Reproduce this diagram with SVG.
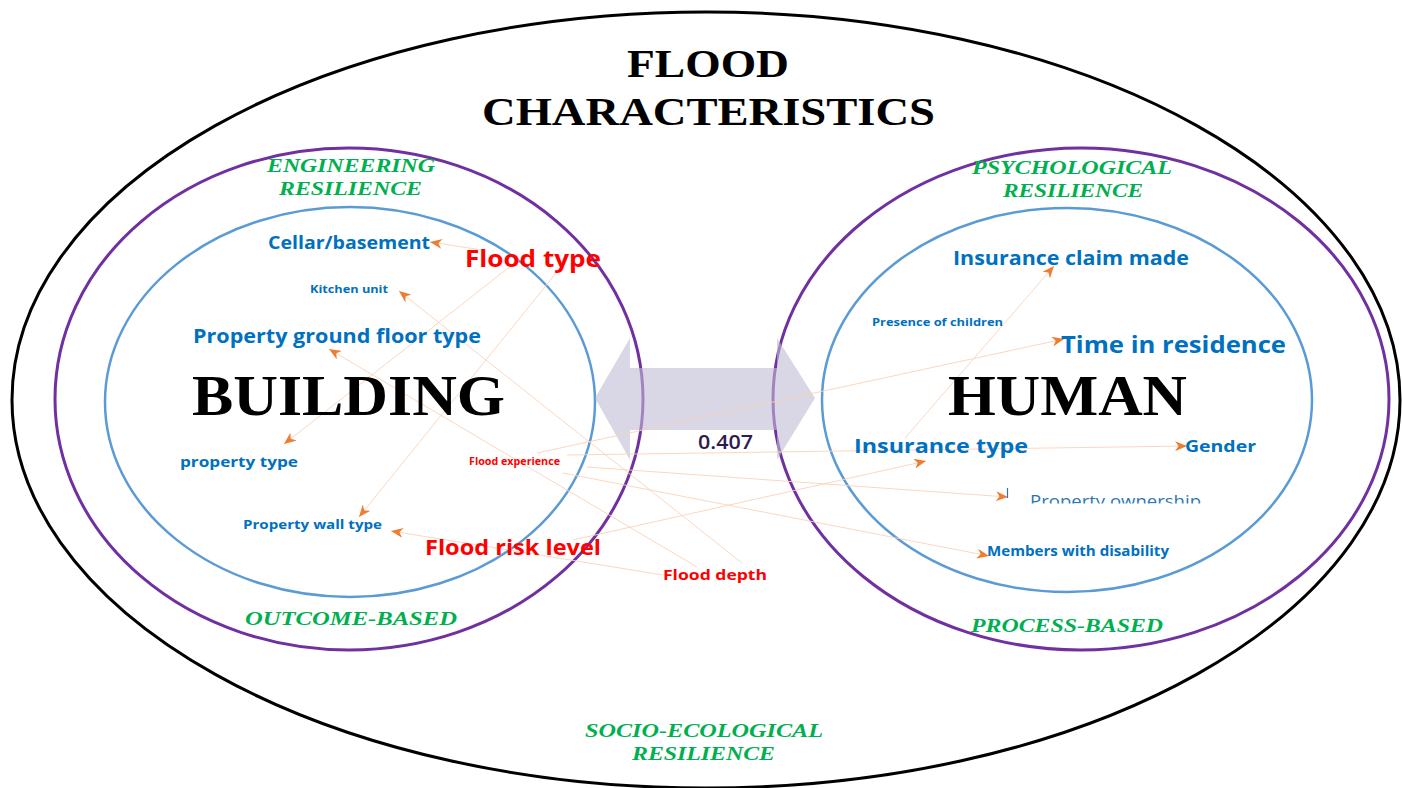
<svg xmlns="http://www.w3.org/2000/svg" width="1402" height="788" viewBox="0 0 1402 788">
  <defs>
    <style>
      .ring-outer { fill: none; stroke: #000000; stroke-width: 3; }
      .ring-purple { fill: none; stroke: #7030a0; stroke-width: 3; }
      .ring-blue { fill: none; stroke: #5b9bd5; stroke-width: 2.5; }
      .title { font-family: "Liberation Serif", "Times New Roman", serif; font-weight: 700; fill: #000000; }
      .domain { font-family: "Liberation Serif", "Times New Roman", serif; font-weight: 700; fill: #000000; font-size: 58px; }
      .green { font-family: "Liberation Serif", "Times New Roman", serif; font-weight: 700; font-style: italic; fill: #00b050; font-size: 18px; }
      .blue { font-family: "Open Sans", "Liberation Sans", sans-serif; font-weight: 700; fill: #0070c0; }
      .red { font-family: "Open Sans", "Liberation Sans", sans-serif; font-weight: 700; fill: #ff0000; }
      .link { fill: none; stroke: #f9d3b8; stroke-width: 0.9; marker-end: url(#tip); }
    </style>
    <marker id="tip" viewBox="0 0 12 10" refX="12" refY="5" markerWidth="12" markerHeight="10" markerUnits="userSpaceOnUse" orient="auto">
      <path d="M0,0 L12,5 L0,10 L3.5,5 Z" fill="#ed7d31"/>
    </marker>
    <clipPath id="ownership-clip">
      <rect x="1000" y="470" width="260" height="33.5"/>
    </clipPath>
  </defs>

  <rect width="1402" height="788" fill="#ffffff"/>

  <!-- enclosing rings -->
  <g id="rings">
    <ellipse class="ring-outer" cx="706" cy="400" rx="694" ry="388"/>
    <ellipse class="ring-purple" cx="349" cy="399" rx="294" ry="251"/>
    <ellipse class="ring-purple" cx="1081" cy="399" rx="308" ry="251"/>
    <ellipse class="ring-blue" cx="350" cy="402" rx="245" ry="195"/>
    <ellipse class="ring-blue" cx="1067" cy="400" rx="245" ry="192"/>
  </g>

  <!-- two-way link between the domains -->
  <g id="link-arrow">
    <polygon points="595,398 630,338 630,368 777,368 777,338 815,398 777,460 777,430 630,430 630,460" fill="#bfbcd3" fill-opacity="0.6"/>
    <text x="698" y="449" font-family="'Open Sans', 'Liberation Sans', sans-serif" font-weight="600" font-size="20.5" fill="#2f1b4d" textLength="55" lengthAdjust="spacingAndGlyphs">0.407</text>
  </g>

  <!-- connectors -->
  <g id="connectors">
    <path class="link" d="M482,250 L430,242"/>
    <path class="link" d="M742,563 L399,291"/>
    <path class="link" d="M697,567 L329,349"/>
    <path class="link" d="M663,575 L391,531"/>
    <path class="link" d="M512,265 L284,444"/>
    <path class="link" d="M557,272 L359,517"/>
    <path class="link" d="M537,453 L1064,339"/>
    <path class="link" d="M567,455 L1187,446"/>
    <path class="link" d="M587,467 L1008,497"/>
    <path class="link" d="M563,473 L989,556"/>
    <path class="link" d="M573,540 L926,461"/>
    <path class="link" d="M905,438 L1054,266"/>
  </g>

  <g id="title">
    <text class="title" x="627" y="77" font-size="39" textLength="162" lengthAdjust="spacingAndGlyphs">FLOOD</text>
    <text class="title" x="482" y="125" font-size="40" textLength="453" lengthAdjust="spacingAndGlyphs">CHARACTERISTICS</text>
  </g>

  <g id="building">
    <text class="domain" x="192" y="415" textLength="313" lengthAdjust="spacingAndGlyphs">BUILDING</text>
  </g>
  <g id="human">
    <text class="domain" x="948" y="415" textLength="239" lengthAdjust="spacingAndGlyphs">HUMAN</text>
  </g>

  <g id="engineering-resilience">
    <text class="green" x="267" y="172" textLength="168" lengthAdjust="spacingAndGlyphs">ENGINEERING</text>
    <text class="green" x="279" y="195" textLength="143" lengthAdjust="spacingAndGlyphs">RESILIENCE</text>
  </g>
  <g id="psychological-resilience">
    <text class="green" x="972" y="174" textLength="200" lengthAdjust="spacingAndGlyphs">PSYCHOLOGICAL</text>
    <text class="green" x="1003" y="197" textLength="140" lengthAdjust="spacingAndGlyphs">RESILIENCE</text>
  </g>
  <g id="outcome-based">
    <text class="green" x="245" y="625" textLength="212" lengthAdjust="spacingAndGlyphs">OUTCOME-BASED</text>
  </g>
  <g id="process-based">
    <text class="green" x="971" y="632" textLength="192" lengthAdjust="spacingAndGlyphs">PROCESS-BASED</text>
  </g>
  <g id="socio-ecological-resilience">
    <text class="green" x="585" y="737" textLength="238" lengthAdjust="spacingAndGlyphs">SOCIO-ECOLOGICAL</text>
    <text class="green" x="632" y="760" textLength="143" lengthAdjust="spacingAndGlyphs">RESILIENCE</text>
  </g>

  <!-- building attributes -->
  <g id="cellar-basement"><text class="blue" x="268" y="249" font-size="18" textLength="162" lengthAdjust="spacingAndGlyphs">Cellar/basement</text></g>
  <g id="kitchen-unit"><text class="blue" x="310" y="293" font-size="10.5" textLength="78" lengthAdjust="spacingAndGlyphs">Kitchen unit</text></g>
  <g id="ground-floor-type"><text class="blue" x="193" y="343" font-size="19" textLength="288" lengthAdjust="spacingAndGlyphs">Property ground floor type</text></g>
  <g id="property-type"><text class="blue" x="180" y="467" font-size="14.5" textLength="118" lengthAdjust="spacingAndGlyphs">property type</text></g>
  <g id="wall-type"><text class="blue" x="243" y="529" font-size="13" textLength="139" lengthAdjust="spacingAndGlyphs">Property wall type</text></g>

  <!-- human attributes -->
  <g id="insurance-claim"><text class="blue" x="953" y="265" font-size="19" textLength="236" lengthAdjust="spacingAndGlyphs">Insurance claim made</text></g>
  <g id="children"><text class="blue" x="872" y="326" font-size="10.5" textLength="131" lengthAdjust="spacingAndGlyphs">Presence of children</text></g>
  <g id="time-in-residence"><text class="blue" x="1061" y="353" font-size="23" textLength="225" lengthAdjust="spacingAndGlyphs">Time in residence</text></g>
  <g id="insurance-type"><text class="blue" x="854" y="453" font-size="20" textLength="174" lengthAdjust="spacingAndGlyphs">Insurance type</text></g>
  <g id="gender"><text class="blue" x="1185" y="452" font-size="16.5" textLength="71" lengthAdjust="spacingAndGlyphs">Gender</text></g>
  <g id="ownership">
    <line x1="1007.5" y1="488" x2="1007.5" y2="498" stroke="#2e75b6" stroke-width="1.2"/>
    <text x="1030" y="507" clip-path="url(#ownership-clip)" font-family="'Open Sans', 'Liberation Sans', sans-serif" font-size="16.5" fill="#2e75b6" textLength="171" lengthAdjust="spacingAndGlyphs">Property ownership</text>
  </g>
  <g id="disability"><text class="blue" x="987" y="556" font-size="13.5" textLength="182" lengthAdjust="spacingAndGlyphs">Members with disability</text></g>

  <!-- flood characteristics -->
  <g id="flood-type"><text class="red" x="465" y="267" font-size="24" textLength="136" lengthAdjust="spacingAndGlyphs">Flood type</text></g>
  <g id="flood-experience"><text class="red" x="469" y="465" font-size="10" textLength="91" lengthAdjust="spacingAndGlyphs">Flood experience</text></g>
  <g id="flood-risk-level"><text class="red" x="425" y="555" font-size="21" textLength="176" lengthAdjust="spacingAndGlyphs">Flood risk level</text></g>
  <g id="flood-depth"><text class="red" x="663" y="580" font-size="15" textLength="104" lengthAdjust="spacingAndGlyphs">Flood depth</text></g>
</svg>
